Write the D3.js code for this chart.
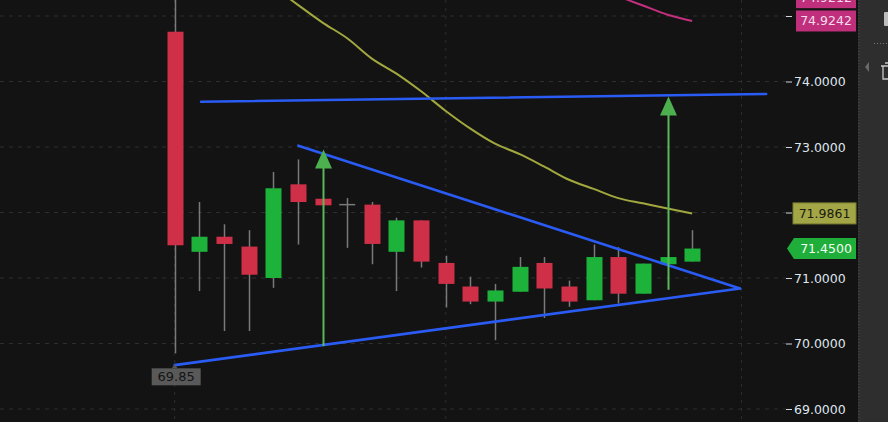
<!DOCTYPE html>
<html><head><meta charset="utf-8">
<script src="https://cdn.jsdelivr.net/npm/d3@7"></script>
<style>
html,body{margin:0;padding:0;background:#131313;overflow:hidden;}
svg{display:block;}
</style></head>
<body>
<svg id="chart" width="888" height="422"></svg>
<script>
// ---- data ----
const opens  = [74.76,71.40,71.63,71.48,71.00,72.43,72.21,72.12,72.12,71.40,71.88,71.23,70.87,70.64,70.79,71.23,70.87,70.66,71.32,70.76,71.21,71.25];
const highs  = [75.60,72.16,71.82,71.73,72.62,72.81,72.21,72.22,72.16,71.92,71.88,71.34,71.02,70.91,71.32,71.32,70.96,71.51,71.47,71.22,71.32,71.73];
const lows   = [69.85,70.80,70.19,70.19,70.85,71.51,72.11,71.46,71.21,70.80,71.16,70.55,70.60,70.05,70.79,70.39,70.56,70.66,70.61,70.76,71.21,71.25];
const closes = [71.50,71.63,71.52,71.05,72.37,72.16,72.11,72.12,71.52,71.88,71.25,70.91,70.64,70.81,71.17,70.84,70.64,71.32,70.76,71.22,71.32,71.45];
const maStart = 4;
const maValues = [75.45,75.17,74.90,74.66,74.35,74.12,73.85,73.55,73.28,73.05,72.89,72.70,72.50,72.36,72.22,72.14,72.06,71.9861];
const magStart = 17;
const magValues = [75.45,75.30,75.16,75.02,74.9242];
const trendLines = [
  [[1.07,73.69],[24.0,73.81]],
  [[5.02,73.02],[22.94,70.84]],
  [[0,69.67],[22.94,70.84]]
];
const arrows = [{i:6, from:69.96, to:72.96},{i:20, from:70.82, to:73.77}];
const tickValues = [69,70,71,72,73,74,75];
const tickLabelValues = [69,70,71,73,74]; // 72 and 75 are hidden under price labels
const vGridIdx = [0,11,23];
const lowLabel = {i:0, v:69.85, text:"69.85"};
const priceLabels = [
  {v:75.28, text:"74.9212", bg:"#bf2f7b", fg:"#f4dcea", arrow:false},
  {v:74.9242, text:"74.9242", bg:"#bf2f7b", fg:"#f4dcea", arrow:false},
  {v:71.9861, text:"71.9861", bg:"#a2a646", fg:"#1c1c10", arrow:false},
  {v:71.45, text:"71.4500", bg:"#1fae3a", fg:"#f2fff2", arrow:true}
];

// ---- scales ----
const W = 888, H = 422, plotRight = 858;
const x = d3.scaleLinear().domain([0,21]).range([174.7,692.2]);
const y = d3.scaleLinear().domain([69,75]).range([409,16]);
const svg = d3.select("#chart");
svg.append("rect").attr("width",W).attr("height",H).attr("fill","#131313");
svg.append("defs").append("clipPath").attr("id","clip").append("rect").attr("x",0).attr("y",0).attr("width",plotRight).attr("height",H);

// grid
const grid = svg.append("g");
grid.selectAll("line.h").data(tickValues).join("line")
  .attr("x1",0).attr("x2",786).attr("y1",d=>y(d)).attr("y2",d=>y(d))
  .attr("stroke","#2e2e2e").attr("stroke-dasharray","4,5");
grid.selectAll("line.v").data(vGridIdx).join("line")
  .attr("x1",d=>x(d)).attr("x2",d=>x(d)).attr("y1",0).attr("y2",H)
  .attr("stroke","#2e2e2e").attr("stroke-dasharray","3,5");

const plot = svg.append("g").attr("clip-path","url(#clip)");

// moving averages
const lineGen = d3.line().x(d=>x(d[0])).y(d=>y(d[1])).curve(d3.curveMonotoneX);
plot.append("path").datum(maValues.map((v,k)=>[maStart+k,v]))
  .attr("d",lineGen).attr("fill","none").attr("stroke","#a2a83e").attr("stroke-width",2);
plot.append("path").datum(magValues.map((v,k)=>[magStart+k,v]))
  .attr("d",lineGen).attr("fill","none").attr("stroke","#c2307d").attr("stroke-width",2);

// candles
const bw = 16;
const candles = opens.map((o,i)=>({i,o,h:highs[i],l:lows[i],c:closes[i]}));
const cg = plot.append("g");
cg.selectAll("line.wick").data(candles).join("line")
  .attr("x1",d=>Math.round(x(d.i))+0.5).attr("x2",d=>Math.round(x(d.i))+0.5)
  .attr("y1",d=>y(d.h)).attr("y2",d=>y(d.l))
  .attr("stroke","#7a7a7a").attr("stroke-width",1.5);
cg.selectAll("rect.body").data(candles.filter(d=>d.o!==d.c)).join("rect")
  .attr("x",d=>Math.round(x(d.i))-bw/2+0.5).attr("width",bw)
  .attr("y",d=>y(Math.max(d.o,d.c))).attr("height",d=>Math.max(1,Math.abs(y(d.o)-y(d.c))))
  .attr("fill",d=>d.c>d.o?"#1db33a":"#cf3047");
cg.selectAll("line.doji").data(candles.filter(d=>d.o===d.c)).join("line")
  .attr("x1",d=>x(d.i)-bw/2).attr("x2",d=>x(d.i)+bw/2)
  .attr("y1",d=>y(d.o)).attr("y2",d=>y(d.o))
  .attr("stroke","#7a7a7a").attr("stroke-width",1.5);

// trend lines
plot.selectAll("line.trend").data(trendLines).join("line")
  .attr("x1",d=>x(d[0][0])).attr("y1",d=>y(d[0][1]))
  .attr("x2",d=>x(d[1][0])).attr("y2",d=>y(d[1][1]))
  .attr("stroke","#2a5cf5").attr("stroke-width",2.6).attr("stroke-linecap","round");

// arrows
const ag = plot.append("g");
arrows.forEach(a=>{
  const ax = Math.round(x(a.i))+0.5, yt = y(a.to), yb = y(a.from);
  ag.append("line").attr("x1",ax).attr("x2",ax).attr("y1",yt+10).attr("y2",yb)
    .attr("stroke","#58b85a").attr("stroke-width",2);
  ag.append("path").attr("d",`M${ax},${yt} L${ax-8.5},${yt+19} L${ax+8.5},${yt+19} Z`)
    .attr("fill","#4cb04f");
});

// low label
const lx = x(lowLabel.i), ly = y(lowLabel.v);
svg.append("path").attr("d",`M${lx},${ly+11} l-3,4 l6,0 Z`).attr("fill","#555");
svg.append("rect").attr("x",lx-23).attr("y",ly+15).attr("width",49).attr("height",17).attr("fill","#595959");
svg.append("text").attr("x",lx+1.5).attr("y",ly+28).attr("text-anchor","middle")
  .attr("font-family","DejaVu Sans, sans-serif").attr("font-size",13).attr("fill","#141414").text(lowLabel.text);

// right axis
const axis = svg.append("g").attr("transform","translate(786,0)")
  .call(d3.axisRight(y).tickValues(tickValues)
    .tickFormat(d=>tickLabelValues.includes(d)?d3.format(".4f")(d):"")
    .tickSize(6).tickPadding(2));
axis.select(".domain").remove();
axis.selectAll("line").attr("stroke","#cfd6e0");
axis.selectAll("text").attr("fill","#dfe5ee").attr("font-family","DejaVu Sans, sans-serif").attr("font-size",12.5);

// price labels
priceLabels.forEach(p=>{
  const cy = y(p.v), h = 21;
  const g = svg.append("g");
  if(p.arrow){
    g.append("path").attr("d",`M787,${cy} L794,${cy-h/2} L856,${cy-h/2} L856,${cy+h/2} L794,${cy+h/2} Z`).attr("fill",p.bg);
  } else {
    const x0 = p.bg==="#a2a646"?793:796;
    g.append("rect").attr("x",x0).attr("y",cy-h/2).attr("width",856-x0).attr("height",h).attr("fill",p.bg)
      .attr("stroke",p.bg==="#a2a646"?"#7c7f30":"none");
  }
  g.append("text").attr("x",p.bg==="#a2a646"?824.5:826).attr("y",cy+4.5).attr("text-anchor","middle")
    .attr("font-family","DejaVu Sans, sans-serif").attr("font-size",12.5).attr("fill",p.fg).text(p.text);
});

// right side panel
svg.append("rect").attr("x",858).attr("y",0).attr("width",30).attr("height",H).attr("fill","#2e2e2e");
svg.append("line").attr("x1",859).attr("x2",859).attr("y1",0).attr("y2",H).attr("stroke","#4a4a4a").attr("stroke-dasharray","1,2");
svg.append("line").attr("x1",874).attr("x2",888).attr("y1",43.5).attr("y2",43.5).attr("stroke","#777").attr("stroke-dasharray","1,2");
svg.append("rect").attr("x",884).attr("y",12).attr("width",6).attr("height",14).attr("fill","#bdbdbd").attr("rx",1);
svg.append("path").attr("d","M869,62 L865,67 L869,72 Z").attr("fill","#6a6a6a");
svg.append("path").attr("d","M881,66 L888,66 M883,66 L883,79 L888,79 M885,63 L888,63").attr("stroke","#c8c8c8").attr("stroke-width",1.3).attr("fill","none");
</script>
</body></html>
